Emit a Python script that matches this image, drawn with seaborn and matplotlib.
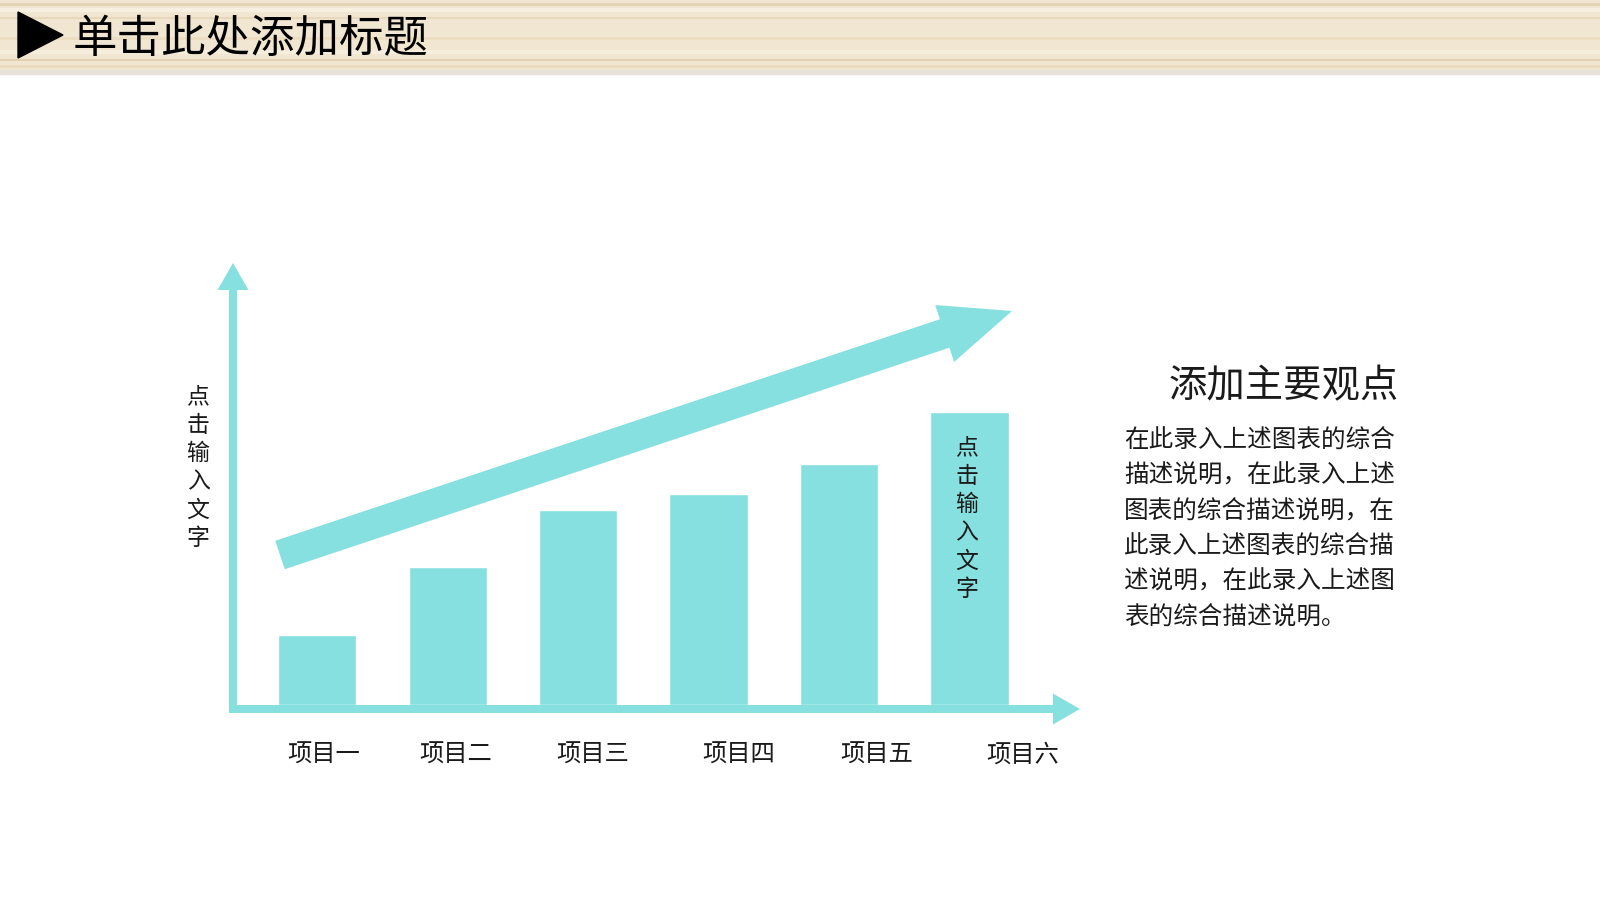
import numpy as np
import matplotlib.pyplot as plt
import seaborn as sns
from matplotlib.patches import FancyArrow, Rectangle, Polygon

# data
CATEGORIES = ['项目一', '项目二', '项目三', '项目四', '项目五', '项目六']
VALUES = [2.4, 4.7, 6.65, 7.2, 8.25, 10.0]
TITLE = '单击此处添加标题'
AXIS_TEXT = '点击输入文字'
SIDE_TITLE = '添加主要观点'
SIDE_LINES = [
    '在此录入上述图表的综合',
    '描述说明，在此录入上述',
    '图表的综合描述说明，在',
    '此录入上述图表的综合描',
    '述说明，在此录入上述图',
    '表的综合描述说明。',
]

# layout / style
BAR_COLOR = '#87E0E0'
TEXT_COLOR = '#1a1a1a'
LABEL_SHIFT = [0.05, 0.06, 0.11, 0.23, 0.29, 0.41]
FONT = ['Noto Sans CJK SC', 'DejaVu Sans']

sns.set_theme(style='white')
plt.rcParams['font.family'] = FONT

fig = plt.figure(figsize=(16, 9), dpi=100)
fig.patch.set_facecolor('white')

# overlay in pixel coordinates for decorations
ov = fig.add_axes([0, 0, 1, 1], zorder=3)
ov.set_xlim(0, 1600)
ov.set_ylim(900, 0)
ov.axis('off')
ov.patch.set_alpha(0)

# wooden header band
ov.add_patch(Rectangle((0, 0), 1600, 72, color='#F1E6D1', zorder=1))
for y, c, lw in [(4, '#E4D3B4', 2), (10, '#F7EFDF', 3), (18, '#E8D8BB', 1.5),
                 (38, '#ECDDC2', 2), (52, '#F6EEDD', 3), (60, '#E2D0AF', 1.5),
                 (66, '#EADAC0', 2)]:
    ov.plot([0, 1600], [y, y], color=c, lw=lw, zorder=1.5)
ov.add_patch(Rectangle((0, 70), 1600, 4, color='#E6E2DA', zorder=1))
ov.add_patch(Polygon([[18, 12], [18, 58], [63, 35]], closed=True,
                     color='black', zorder=2))
ov.text(73, 39, TITLE, fontsize=32, color='black', va='center', ha='left', zorder=2)

# axis arrows
ov.add_patch(FancyArrow(233, 713, 0, -450, width=8, head_width=31, head_length=27,
                        length_includes_head=True, color=BAR_COLOR, lw=0))
ov.add_patch(FancyArrow(229, 709, 851, 0, width=8, head_width=31, head_length=27,
                        length_includes_head=True, color=BAR_COLOR, lw=0))

# big trend arrow
ov.add_patch(FancyArrow(280, 555, 732, -244, width=30, head_width=60, head_length=71,
                        length_includes_head=True, color=BAR_COLOR, lw=0))

# vertical texts
ov.text(198, 468, '\n'.join(AXIS_TEXT), fontsize=16.5, color=TEXT_COLOR,
        ha='center', va='center', linespacing=1.29)
ov.text(967, 519, '\n'.join(AXIS_TEXT), fontsize=16.5, color=TEXT_COLOR,
        ha='center', va='center', linespacing=1.29)

# side text
ov.text(1399, 387, SIDE_TITLE, fontsize=27.6, color=TEXT_COLOR, ha='right', va='center')
ov.text(1124, 529, '\n'.join(SIDE_LINES), fontsize=17.7, color=TEXT_COLOR,
        ha='left', va='center', linespacing=1.47)

# bar chart
ax = fig.add_axes([233 / 1600, 1 - 705 / 900, 847 / 1600, 442 / 900], zorder=2)
sns.barplot(x=CATEGORIES, y=VALUES, color=BAR_COLOR, saturation=1, width=0.6, ax=ax)
ax.set_xlim(-0.647, 5.848)
ax.set_ylim(0, 15.1)
ax.axis('off')
for i, (lab, off) in enumerate(zip(CATEGORIES, LABEL_SHIFT)):
    ax.text(i + off, -50 / 442, lab, transform=ax.get_xaxis_transform(),
            fontsize=17.5, color=TEXT_COLOR, ha='center', va='center')

fig.savefig('out.png', dpi=100)
